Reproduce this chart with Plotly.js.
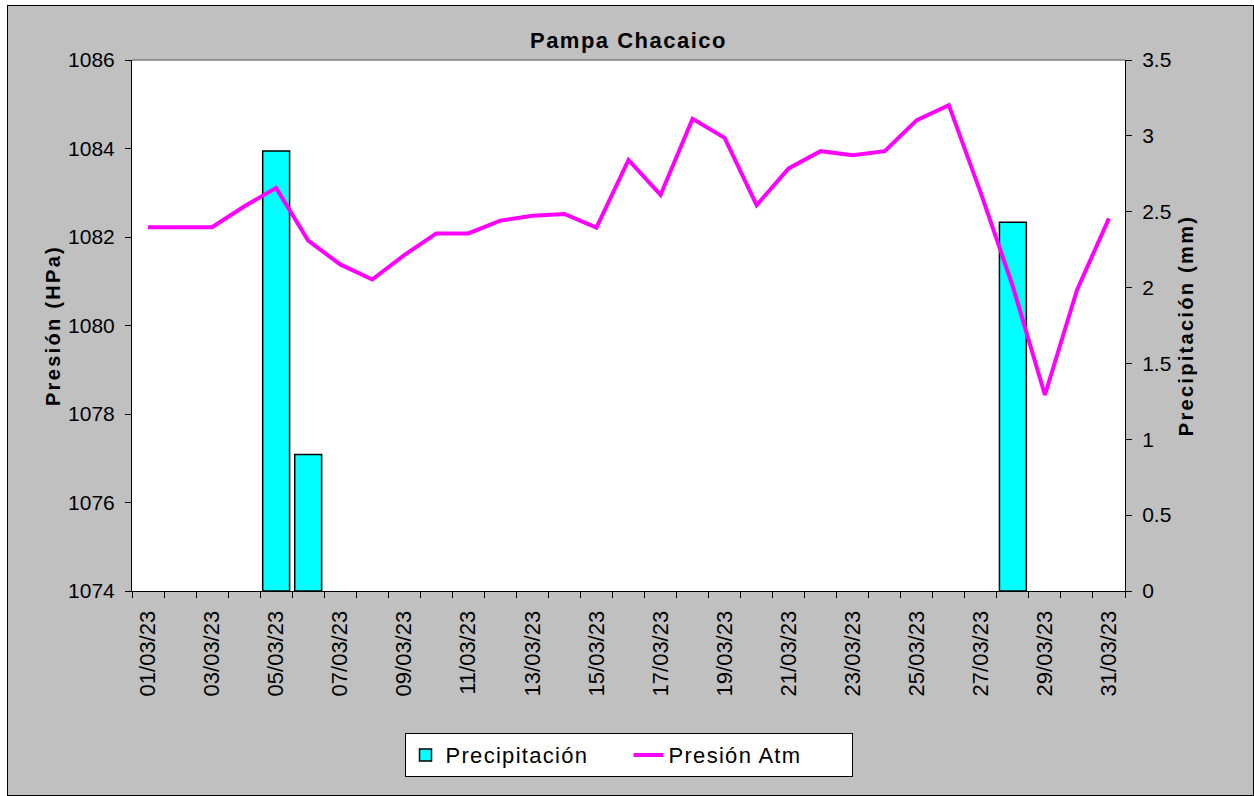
<!DOCTYPE html>
<html><head><meta charset="utf-8">
<script src="https://cdn.plot.ly/plotly-3.0.1.min.js"></script>
<style>
html,body{margin:0;padding:0;background:#fff;}
#frame{position:absolute;left:7px;top:5px;width:1247px;height:791px;box-sizing:border-box;border:1px solid #000;background:#c0c0c0;}
#chart{position:absolute;left:0;top:0;width:1254px;height:796px;}
.ytitle,.y2title{letter-spacing:2.3px;}
.legendtext{letter-spacing:1.3px;}
.gtitle{letter-spacing:1.5px;}
</style></head>
<body><div id="frame"></div><div id="chart"></div>
<script>
const dates = ['01/03/23','02/03/23','03/03/23','04/03/23','05/03/23','06/03/23','07/03/23','08/03/23','09/03/23','10/03/23',
  '11/03/23','12/03/23','13/03/23','14/03/23','15/03/23','16/03/23','17/03/23','18/03/23','19/03/23','20/03/23',
  '21/03/23','22/03/23','23/03/23','24/03/23','25/03/23','26/03/23','27/03/23','28/03/23','29/03/23','30/03/23','31/03/23'];
const tickLabels = ['01/03/23','','03/03/23','','05/03/23','','07/03/23','','09/03/23','',
  '11/03/23','','13/03/23','','15/03/23','','17/03/23','','19/03/23','',
  '21/03/23','','23/03/23','','25/03/23','','27/03/23','','29/03/23','','31/03/23'];
const precipitacion = [0,0,0,0,2.9,0.9,0,0,0,0,
  0,0,0,0,0,0,0,0,0,0,
  0,0,0,0,0,0,0,2.43,0,0,0];
const presion = [1082.22,1082.22,1082.22,1082.69,1083.11,1081.92,1081.38,1081.04,1081.59,1082.08,
  1082.08,1082.37,1082.48,1082.52,1082.21,1083.74,1082.95,1084.67,1084.24,1082.72,
  1083.55,1083.94,1083.85,1083.94,1084.64,1084.98,1082.99,1080.88,1078.43,1080.80,1082.42];

const FONT = 'Liberation Sans, Arial, sans-serif';

const traces = [
  {type:'bar', name:'Precipitación', x:dates, y:precipitacion.map(v => v > 0 ? v : null), yaxis:'y',
   marker:{color:'#00ffff', line:{color:'#000', width:1.5}}, hoverinfo:'skip'},
  {type:'scatter', mode:'lines', name:'Presión Atm', x:dates, y:presion, yaxis:'y2',
   line:{color:'#ff00ff', width:4}, hoverinfo:'skip'}
];

const layout = {
  width:1254, height:796,
  margin:{l:132, r:129, t:60, b:205},
  paper_bgcolor:'rgba(0,0,0,0)', plot_bgcolor:'#ffffff',
  font:{family:FONT, color:'#000', size:21},
  bargap:0.16,
  showlegend:true,
  title:{text:'Pampa Chacaico', font:{family:FONT, size:22, weight:700, color:'#000'},
         x:0.5, xref:'paper', xanchor:'center', y:1-40/796, yref:'container', yanchor:'middle'},
  xaxis:{type:'category', tickson:'boundaries', ticks:'outside', ticklen:6, tickcolor:'#000',
         tickvals:dates, ticktext:tickLabels, tickangle:-90, tickfont:{size:22},
         showline:true, linecolor:'#000', linewidth:1, showgrid:false, ticklabelstandoff:10,
         range:[-0.5,30.5], fixedrange:true},
  yaxis:{side:'right', range:[0,3.5], dtick:0.5, tick0:0, ticks:'outside', ticklen:6, tickcolor:'#000',
         showline:true, linecolor:'#000', linewidth:1, showgrid:false, zeroline:false,
         ticklabelstandoff:6,
         title:{text:'Precipitación (mm)', font:{size:20, weight:700}, standoff:8}},
  yaxis2:{overlaying:'y', side:'left', range:[1074,1086], dtick:2, tick0:1074, ticks:'outside', ticklen:6,
         tickcolor:'#000', showline:true, linecolor:'#000', linewidth:1, showgrid:false, zeroline:false,
         ticklabelstandoff:6,
         title:{text:'Presión (HPa)', font:{size:20, weight:700}, standoff:2}},
  legend:{orientation:'h', x:0.5, xanchor:'center', y:-0.309, yanchor:'middle',
          bgcolor:'#ffffff', bordercolor:'#000', borderwidth:1, font:{size:22},
          traceorder:'normal', entrywidth:178},
  shapes:[{type:'line', xref:'paper', yref:'paper', x0:0, x1:1, y0:1, y1:1,
           line:{color:'#808080', width:1.5}}]
};

Plotly.newPlot('chart', traces, layout, {displayModeBar:false, staticPlot:true});
</script>
</body></html>
